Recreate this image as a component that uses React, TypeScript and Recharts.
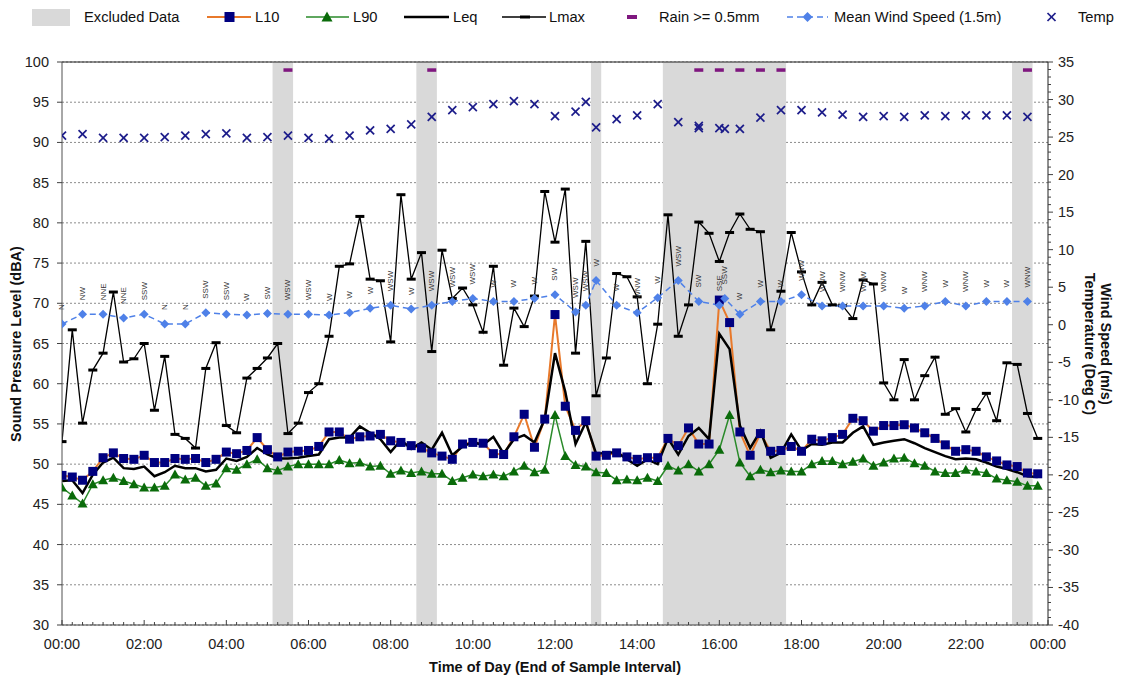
import React from 'react';
import {
  ComposedChart,
  Line,
  Scatter,
  XAxis,
  YAxis,
  CartesianGrid,
  ReferenceArea,
  ReferenceLine,
  LabelList,
} from 'recharts';

const FONT = '"Liberation Sans", Arial, Helvetica, sans-serif';

// noise levels (dBA), one sample every 15 minutes from 00:00
const L10 = [
  48.6, 48.4, 48.0, 49.1, 50.8, 51.4, 50.7, 50.6, 51.1, 50.2, 50.2, 50.7, 50.6, 50.7, 50.2, 50.6,
  51.5, 51.3, 51.7, 53.3, 51.8, 50.9, 51.5, 51.6, 51.7, 52.2, 54.0, 54.0, 53.1, 53.4, 53.5, 53.7,
  52.9, 52.7, 52.3, 52.0, 51.4, 51.0, 50.6, 52.5, 52.7, 52.6, 51.3, 51.2, 53.4, 56.2, 52.1, 55.6,
  68.6, 57.2, 54.2, 55.4, 51.0, 51.1, 51.4, 50.9, 50.6, 50.8, 50.8, 53.2, 52.3, 54.5, 52.5, 52.5,
  70.4, 67.6, 54.0, 51.1, 53.8, 51.6, 51.7, 52.2, 51.6, 53.1, 52.9, 53.3, 53.7, 55.7, 55.4, 54.1,
  54.8, 54.8, 54.9, 54.5, 53.9, 53.2, 52.4, 51.6, 51.8, 51.6, 50.9, 50.4, 49.9, 49.7, 48.9, 48.8,
];
const L90 = [
  47.1, 46.1, 45.1, 47.5, 48.0, 48.3, 47.9, 47.5, 47.1, 47.1, 47.3, 48.7, 48.1, 48.3, 47.3, 47.6,
  49.5, 49.3, 50.0, 50.6, 49.5, 49.2, 49.7, 50.0, 50.0, 50.0, 50.0, 50.5, 50.1, 50.2, 49.7, 49.8,
  48.8, 49.2, 48.9, 49.1, 48.8, 48.8, 47.9, 48.3, 48.7, 48.5, 48.7, 48.5, 49.1, 49.8, 49.0, 49.3,
  56.1, 51.0, 49.9, 49.7, 49.0, 48.9, 48.0, 48.1, 48.0, 48.3, 47.9, 49.8, 49.2, 50.0, 49.1, 50.0,
  51.8, 56.1, 50.2, 48.5, 49.3, 49.0, 49.2, 49.1, 49.1, 50.0, 50.4, 50.4, 50.0, 50.3, 50.7, 49.8,
  50.2, 50.7, 50.8, 50.1, 49.8, 49.1, 48.9, 48.9, 49.3, 49.1, 48.9, 48.2, 48.0, 47.8, 47.3, 47.3,
];
const LEQ = [
  47.9, 48.0, 46.4, 48.7, 50.2, 50.8, 49.5, 49.4, 49.7, 48.5, 49.0, 49.8, 49.5, 49.5, 49.1, 49.3,
  50.7, 50.4, 50.9, 52.0, 51.2, 50.7, 50.7, 50.8, 51.0, 51.2, 53.1, 53.3, 53.3, 54.7, 53.9, 53.1,
  51.5, 53.0, 51.9, 52.7, 51.8, 53.9, 51.1, 52.2, 52.7, 52.4, 53.4, 51.3, 53.1, 53.6, 52.7, 55.6,
  63.8, 59.0, 52.5, 55.2, 51.3, 51.4, 51.5, 50.6, 49.8, 50.6, 50.0, 53.2, 51.2, 53.5, 54.5, 53.1,
  66.2, 64.3, 54.8, 52.0, 54.1, 50.8, 51.4, 53.7, 51.7, 52.5, 52.4, 52.7, 52.7, 53.9, 54.7, 52.4,
  52.7, 52.9, 53.1, 52.6, 52.0, 51.5, 51.0, 50.6, 50.7, 50.6, 50.2, 49.7, 49.4, 49.0, 48.5, 48.4,
];
const LMAX = [
  52.8, 66.7, 55.1, 61.7, 63.8, 71.4, 62.7, 63.1, 65.0, 56.7, 63.4, 53.7, 53.2, 52.0, 61.9, 65.1,
  54.8, 53.9, 60.7, 61.9, 63.2, 65.0, 53.8, 55.1, 58.9, 60.0, 65.9, 74.6, 74.9, 80.8, 73.0, 72.8,
  65.2, 83.5, 73.0, 76.3, 64.0, 76.6, 70.6, 71.9, 69.8, 66.4, 74.6, 62.3, 69.4, 67.1, 70.9, 83.9,
  77.6, 84.2, 63.8, 77.7, 58.5, 63.2, 73.7, 73.3, 70.8, 60.0, 67.4, 81.0, 65.9, 69.8, 80.1, 78.7,
  75.2, 78.8, 81.1, 79.2, 78.9, 66.7, 71.5, 78.8, 73.9, 69.8, 72.6, 69.8, 69.7, 68.1, 72.9, 72.4,
  60.1, 58.0, 63.0, 58.0, 61.0, 63.3, 56.2, 56.9, 54.0, 56.8, 58.8, 55.4, 62.6, 62.4, 56.3, 53.2,
];

// samples flagged as excluded
const EXCLUDED = [
  '05:15', '05:30', '08:45', '09:00', '13:00',
  '14:45', '15:00', '15:15', '15:30', '15:45', '16:00', '16:15', '16:30', '16:45', '17:00', '17:15', '17:30',
  '23:15', '23:30',
];

const RAIN_TIMES = ['05:30', '09:00', '15:30', '16:00', '16:30', '17:00', '17:30', '23:30'];
const RAIN_LEVEL = 99;

const WIND_TIMES = [
  '00:00', '00:30', '01:00', '01:30', '02:00', '02:30', '03:00', '03:30', '04:00', '04:30',
  '05:00', '05:30', '06:00', '06:30', '07:00', '07:30', '08:00', '08:30', '09:00', '09:30',
  '10:00', '10:30', '11:00', '11:30', '12:00', '12:30', '12:45', '13:00', '13:30', '14:00',
  '14:30', '15:00', '15:30', '16:00', '16:08', '16:30', '17:00', '17:30', '18:00', '18:30',
  '19:00', '19:30', '20:00', '20:30', '21:00', '21:30', '22:00', '22:30', '23:00', '23:30',
];
const WIND_SPEED = [
  0.1, 1.4, 1.4, 0.9, 1.4, 0.1, 0.1, 1.6, 1.4, 1.3,
  1.5, 1.4, 1.4, 1.3, 1.6, 2.2, 2.6, 2.1, 2.6, 3.1,
  3.5, 3.1, 3.1, 3.5, 4.0, 1.7, 2.6, 5.9, 2.6, 1.6,
  3.6, 5.9, 3.1, 2.6, 3.5, 1.4, 3.1, 3.1, 4.0, 2.5,
  2.5, 2.5, 2.5, 2.2, 2.5, 3.1, 2.5, 3.1, 3.1, 3.1,
];
const WIND_DIR = [
  'N', 'NW', 'NNE', 'NNE', 'SSW', 'N', 'N', 'SSW', 'SSW', 'W',
  'SW', 'WSW', 'WSW', 'W', 'W', 'W', 'WSW', 'W', 'WSW', 'WSW',
  'WSW', 'W', 'W', 'W', 'SW', 'WSW', 'WSW', 'W', 'W', 'WNW',
  'W', 'WSW', 'SW', 'SSE', 'SSW', 'W', 'W', 'W', 'WNW', 'WNW',
  'WNW', 'WNW', 'WNW', 'W', 'WNW', 'W', 'WNW', 'W', 'W', 'WNW',
];

const TEMP_TIMES = [
  '00:00', '00:30', '01:00', '01:30', '02:00', '02:30', '03:00', '03:30', '04:00', '04:30',
  '05:00', '05:30', '06:00', '06:30', '07:00', '07:30', '08:00', '08:30', '09:00', '09:30',
  '10:00', '10:30', '11:00', '11:30', '12:00', '12:30', '12:45', '13:00', '13:30', '14:00',
  '14:30', '15:00', '15:30', '15:30', '16:00', '16:08', '16:30', '17:00', '17:30', '18:00',
  '18:30', '19:00', '19:30', '20:00', '20:30', '21:00', '21:30', '22:00', '22:30', '23:00', '23:30',
];
const TEMP = [
  25.2, 25.4, 24.9, 24.9, 24.9, 25.0, 25.2, 25.4, 25.5, 24.9,
  25.0, 25.2, 24.9, 24.8, 25.2, 25.9, 26.1, 26.7, 27.7, 28.6,
  29.0, 29.4, 29.8, 29.4, 27.8, 28.4, 29.7, 26.3, 27.4, 27.9,
  29.4, 27.0, 26.5, 26.2, 26.2, 26.1, 26.1, 27.6, 28.6, 28.6,
  28.3, 28.0, 27.7, 27.8, 27.7, 27.9, 27.8, 27.9, 27.9, 27.9, 27.7,
];

const SPL_TICKS = [30, 35, 40, 45, 50, 55, 60, 65, 70, 75, 80, 85, 90, 95, 100];

const hours = (s: string) => {
  const [h, m] = s.split(':').map(Number);
  return h + m / 60;
};

const noiseRows = L10.map((v, i) => ({ t: i * 0.25, l10: v, l90: L90[i], leq: LEQ[i], lmax: LMAX[i] }));
const windRows = WIND_TIMES.map((s, i) => ({ t: hours(s), wind: WIND_SPEED[i], dir: WIND_DIR[i] }));
const tempRows = TEMP_TIMES.map((s, i) => ({ t: hours(s), temp: TEMP[i] }));
const rainRows = RAIN_TIMES.map((s) => ({ t: hours(s), rain: RAIN_LEVEL }));

// merge neighbouring excluded samples into bands (each sample is 15 min wide)
const excludedBands: [number, number][] = [];
EXCLUDED.map(hours)
  .sort((a, b) => a - b)
  .forEach((t) => {
    const last = excludedBands[excludedBands.length - 1];
    if (last && t - 0.125 <= last[1] + 1e-6) last[1] = t + 0.125;
    else excludedBands.push([t - 0.125, t + 0.125]);
  });

const xTicks = Array.from({ length: 97 }, (_, i) => i * 0.25);
const rightTicks = Array.from({ length: 76 }, (_, i) => i - 40);

const TimeTick = ({ x, y, payload }: any) => {
  const v = payload.value;
  const major = Math.abs(v / 2 - Math.round(v / 2)) < 1e-6;
  const h = Math.round(v) % 24;
  return (
    <g>
      <line x1={x} x2={x} y1={y} y2={y - (major ? 5 : 3)} stroke="#404040" />
      {major && (
        <text x={x} y={y + 24} textAnchor="middle" fontSize={14.5} fill="#222" fontFamily={FONT}>
          {`${String(h).padStart(2, '0')}:00`}
        </text>
      )}
    </g>
  );
};

const LeftTick = ({ x, y, payload }: any) => (
  <g>
    <line x1={x - 5} x2={x} y1={y} y2={y} stroke="#404040" />
    <text x={x - 13} y={y + 5} textAnchor="end" fontSize={14.5} fill="#222" fontFamily={FONT}>
      {payload.value}
    </text>
  </g>
);

const RightTick = ({ x, y, payload }: any) => {
  const v = payload.value;
  const major = v % 5 === 0;
  return (
    <g>
      <line x1={x} x2={x + (major ? 5 : 3)} y1={y} y2={y} stroke="#404040" />
      {major && (
        <text x={x + 10} y={y + 5} textAnchor="start" fontSize={14.5} fill="#222" fontFamily={FONT}>
          {v}
        </text>
      )}
    </g>
  );
};

const SquareDot = ({ cx, cy, index }: any) =>
  cx == null ? null : <rect key={`s${index}`} x={cx - 4.5} y={cy - 4.5} width={9} height={9} fill="#000080" />;

const TriangleDot = ({ cx, cy, index }: any) =>
  cx == null ? null : (
    <polygon key={`t${index}`} points={`${cx},${cy - 5} ${cx + 5},${cy + 4} ${cx - 5},${cy + 4}`} fill="#0a6b0a" />
  );

const DashDot = ({ cx, cy, index }: any) =>
  cx == null ? null : <rect key={`m${index}`} x={cx - 4.5} y={cy - 1.5} width={9} height={3} fill="#000" />;

const DiamondDot = ({ cx, cy, index }: any) =>
  cx == null ? null : (
    <polygon
      key={`w${index}`}
      points={`${cx},${cy - 4.5} ${cx + 4.5},${cy} ${cx},${cy + 4.5} ${cx - 4.5},${cy}`}
      fill="#4f81e8"
    />
  );

const CrossShape = ({ cx, cy }: any) => (
  <g stroke="#1c1c8a" strokeWidth={1.7}>
    <line x1={cx - 4} y1={cy - 4} x2={cx + 4} y2={cy + 4} />
    <line x1={cx - 4} y1={cy + 4} x2={cx + 4} y2={cy - 4} />
  </g>
);

const RainShape = ({ cx, cy }: any) => <rect x={cx - 4.5} y={cy - 1.75} width={9} height={3.5} fill="#7f177f" />;

const DirLabel = ({ x, y, value }: any) => (
  <text
    x={x}
    y={y - 14}
    transform={`rotate(-90, ${x}, ${y - 14})`}
    textAnchor="start"
    dominantBaseline="central"
    fontSize={8}
    fill="#333"
    fontFamily={FONT}
  >
    {value}
  </text>
);

const Legend = () => (
  <g fontFamily={FONT} fontSize={14.7} fill="#111">
    <rect x={32} y={9} width={38} height={17} fill="#d9d9d9" />
    <text x={84} y={22}>Excluded Data</text>

    <line x1={207} x2={251} y1={17} y2={17} stroke="#e8792b" strokeWidth={2} />
    <rect x={224.5} y={12} width={10} height={10} fill="#000080" />
    <text x={255} y={22}>L10</text>

    <line x1={306} x2={349} y1={17} y2={17} stroke="#2a8a2a" strokeWidth={1.5} />
    <polygon points="327,11.5 332.5,21.5 321.5,21.5" fill="#0a6b0a" />
    <text x={353} y={22}>L90</text>

    <line x1={404} x2={449} y1={17} y2={17} stroke="#000" strokeWidth={2.5} />
    <text x={453} y={22}>Leq</text>

    <line x1={502} x2={546} y1={17} y2={17} stroke="#000" strokeWidth={1.3} />
    <rect x={520} y={15.5} width={10} height={3} fill="#000" />
    <text x={549} y={22}>Lmax</text>

    <rect x={627} y={15} width={10} height={4} fill="#7f177f" />
    <text x={659} y={22}>Rain &gt;= 0.5mm</text>

    <line x1={787} x2={828} y1={17} y2={17} stroke="#4f81e8" strokeWidth={1.5} strokeDasharray="6 4" />
    <polygon points="807.5,12 812.5,17 807.5,22 802.5,17" fill="#4f81e8" />
    <text x={834} y={22}>Mean Wind Speed (1.5m)</text>

    <g stroke="#1c1c8a" strokeWidth={1.7}>
      <line x1={1047.5} y1={13} x2={1055.5} y2={21} />
      <line x1={1047.5} y1={21} x2={1055.5} y2={13} />
    </g>
    <text x={1078} y={22}>Temp</text>
  </g>
);

const Titles = () => (
  <g fontFamily={FONT} fontSize={14.5} fontWeight="bold" fill="#111">
    <text x={555} y={672} textAnchor="middle">
      Time of Day (End of Sample Interval)
    </text>
    <text x={16} y={344} transform="rotate(-90, 16, 344)" textAnchor="middle" dominantBaseline="central">
      Sound Pressure Level (dBA)
    </text>
    <text x={1106} y={344} transform="rotate(90, 1106, 344)" textAnchor="middle" dominantBaseline="central">
      Wind Speed (m/s)
    </text>
    <text x={1090} y={344} transform="rotate(90, 1090, 344)" textAnchor="middle" dominantBaseline="central">
      Temperature (Deg C)
    </text>
  </g>
);

export default function App() {
  return (
    <div style={{ position: 'absolute', left: 0, top: 0, width: 1121, height: 678, background: '#fff' }}>
      <ComposedChart
        width={1121}
        height={678}
        data={noiseRows}
        margin={{ top: 62, right: 28, bottom: 0, left: 17 }}
      >
        {excludedBands.map(([a, b], i) => (
          <ReferenceArea
            key={`ex${i}`}
            yAxisId="left"
            x1={a}
            x2={b}
            y1={30}
            y2={100}
            fill="#d9d9d9"
            fillOpacity={1}
            stroke="none"
          />
        ))}
        <CartesianGrid yAxisId="left" vertical={false} stroke="#8c8c8c" strokeDasharray="2 2" />
        <XAxis
          dataKey="t"
          type="number"
          domain={[0, 24]}
          ticks={xTicks}
          interval={0}
          tick={<TimeTick />}
          tickLine={false}
          tickSize={0}
          tickMargin={0}
          height={53}
          axisLine={{ stroke: '#404040' }}
          allowDataOverflow
        />
        <YAxis
          yAxisId="left"
          type="number"
          domain={[30, 100]}
          ticks={SPL_TICKS}
          interval={0}
          tick={<LeftTick />}
          tickLine={false}
          tickSize={0}
          tickMargin={0}
          width={45}
          axisLine={{ stroke: '#505050' }}
          allowDataOverflow
        />
        <YAxis
          yAxisId="right"
          orientation="right"
          type="number"
          domain={[-40, 35]}
          ticks={rightTicks}
          interval={0}
          tick={<RightTick />}
          tickLine={false}
          tickSize={0}
          tickMargin={0}
          width={45}
          axisLine={{ stroke: '#202020' }}
          allowDataOverflow
        />
        <ReferenceLine yAxisId="left" y={100} stroke="#202020" strokeWidth={1.2} />

        <Line
          yAxisId="left"
          dataKey="l10"
          stroke="#e8792b"
          strokeWidth={2}
          dot={SquareDot}
          activeDot={false}
          isAnimationActive={false}
        />
        <Line
          yAxisId="left"
          dataKey="l90"
          stroke="#2a8a2a"
          strokeWidth={1.5}
          dot={TriangleDot}
          activeDot={false}
          isAnimationActive={false}
        />
        <Line
          yAxisId="left"
          dataKey="leq"
          stroke="#000"
          strokeWidth={2.5}
          dot={false}
          activeDot={false}
          isAnimationActive={false}
        />
        <Line
          yAxisId="left"
          dataKey="lmax"
          stroke="#000"
          strokeWidth={1.3}
          dot={DashDot}
          activeDot={false}
          isAnimationActive={false}
        />
        <Scatter
          yAxisId="left"
          data={rainRows}
          dataKey="rain"
          shape={RainShape}
          isAnimationActive={false}
        />
        <Line
          yAxisId="right"
          data={windRows}
          dataKey="wind"
          stroke="#4f81e8"
          strokeWidth={1.5}
          strokeDasharray="6 4"
          dot={DiamondDot}
          activeDot={false}
          isAnimationActive={false}
        >
          <LabelList dataKey="dir" content={DirLabel} />
        </Line>
        <Scatter
          yAxisId="right"
          data={tempRows}
          dataKey="temp"
          shape={CrossShape}
          isAnimationActive={false}
        />
      </ComposedChart>
      <svg
        width={1121}
        height={678}
        style={{ position: 'absolute', left: 0, top: 0, pointerEvents: 'none' }}
      >
        <Legend />
        <Titles />
      </svg>
    </div>
  );
}
